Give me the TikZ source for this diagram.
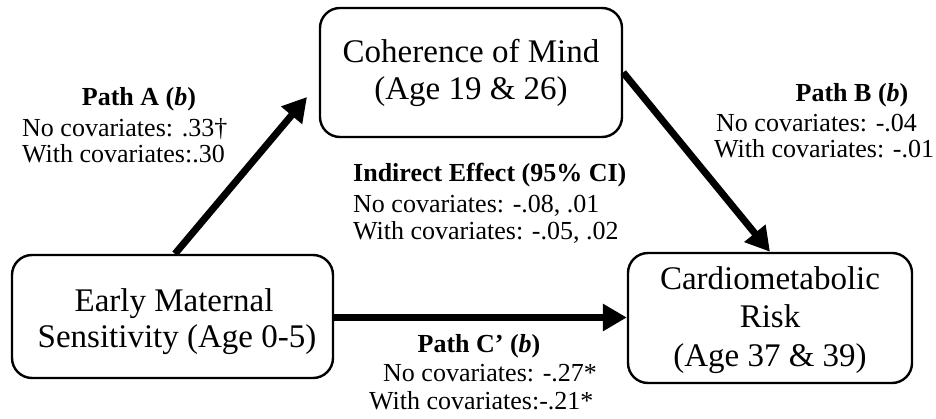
\documentclass[tikz,border=0pt]{standalone}
\usepackage{fontspec}
\setmainfont{Liberation Serif}
\usetikzlibrary{arrows.meta}
\tikzset{
  boxnode/.style={draw, line width=2.4pt, rounded corners=20pt, inner sep=0pt},
  boxtxt/.style={inner sep=0pt, anchor=base, font=\fontsize{33}{38}\selectfont},
  lbl/.style={inner sep=0pt, anchor=base west, font=\fontsize{26}{30}\selectfont},
  ttl/.style={inner sep=0pt, anchor=base, font=\fontsize{26}{30}\selectfont\bfseries},
  ttlw/.style={inner sep=0pt, anchor=base west, font=\fontsize{26}{30}\selectfont\bfseries},
  bigarrow/.style={line width=7pt, -{Triangle[length=24pt,width=26pt]}}
}
\begin{document}
\begin{tikzpicture}[x=1pt,y=1pt]
\useasboundingbox (0,0) rectangle (936,419);
% boxes
\node[boxnode, minimum width=302pt, minimum height=129pt] (coh) at (471,346.5) {};
\node[boxnode, minimum width=321pt, minimum height=123pt] (early) at (172.5,102.5) {};
\node[boxnode, minimum width=284pt, minimum height=130pt] (cardio) at (770,101) {};
% box texts
\node[boxtxt] (coh1) at (471,356) {Coherence of Mind};
\node[boxtxt] (coh2) at (471,319) {(Age 19 \& 26)};
\node[boxtxt] (early1) at (174,107) {Early Maternal};
\node[boxtxt] (early2) at (177,71) {Sensitivity (Age 0-5)};
\node[boxtxt] (card1) at (770,129) {Cardiometabolic};
\node[boxtxt] (card2) at (770,91) {Risk};
\node[boxtxt] (card3) at (770,52) {(Age 37 \& 39)};
% arrows
\coordinate (tipA) at (307,322);
\draw[bigarrow] ([xshift=2.5pt]early.north) -- (tipA);
\draw[bigarrow] (coh.east) -- (cardio.north);
\draw[bigarrow] ([yshift=-1pt]early.east) -- ([yshift=-1pt]early.east -| cardio.west);
% Path A
\node[ttl] (pa0) at (139,313) {Path A (\textit{b})};
\node[lbl] (pa1) at (22,282) {No covariates: .33†};
\node[lbl] (pa2) at (22,256) {With covariates:.30};
% Path B
\node[ttl] (pb0) at (852,317) {Path B (\textit{b})};
\node[lbl] (pb1) at (716,287) {No covariates: -.04};
\node[lbl] (pb2) at (714,261) {With covariates: -.01};
% Indirect
\node[ttlw] (ie0) at (353,237) {Indirect Effect (95\% CI)};
\node[lbl] (ie1) at (353,206) {No covariates: -.08, .01};
\node[lbl] (ie2) at (353,179) {With covariates: -.05, .02};
% Path C'
\node[ttl] (pc0) at (479,66) {Path C’ (\textit{b})};
\node[lbl] (pc1) at (383,37) {No covariates: -.27*};
\node[lbl] (pc2) at (369,9) {With covariates:-.21*};
\end{tikzpicture}
\end{document}
